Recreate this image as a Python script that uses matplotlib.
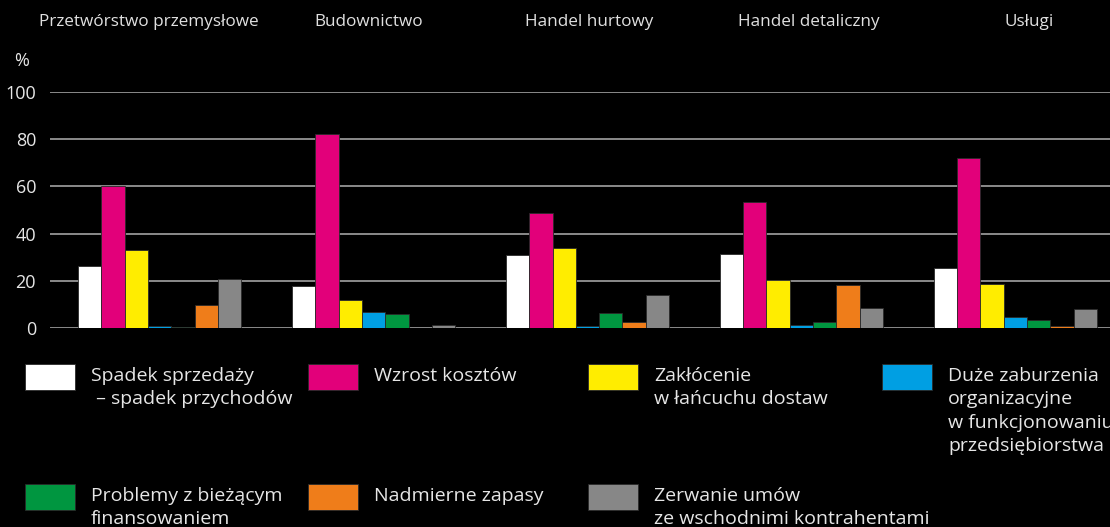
import numpy as np
import matplotlib
matplotlib.use("Agg")
import matplotlib.pyplot as plt
from matplotlib.patches import Rectangle

plt.rcParams['font.family'] = ['Open Sans', 'DejaVu Sans']

# sectors (groups)
sectors = ["Przetwórstwo przemysłowe", "Budownictwo", "Handel hurtowy",
           "Handel detaliczny", "Usługi"]

# series labels and colours
series = [
    "Spadek sprzedaży\n – spadek przychodów",
    "Wzrost kosztów",
    "Zakłócenie\nw łańcuchu dostaw",
    "Duże zaburzenia\norganizacyjne\nw funkcjonowaniu\nprzedsiębiorstwa",
    "Problemy z bieżącym\nfinansowaniem",
    "Nadmierne zapasy",
    "Zerwanie umów\nze wschodnimi kontrahentami",
]
colors = ["#ffffff", "#e2007a", "#ffed00", "#009fe3", "#009640", "#ef7d1a", "#878787"]

# values in %, one list per series (order of sectors)
spadek_sprzedazy = [26.1, 17.7, 30.8, 31.4, 25.6]
wzrost_kosztow = [60.1, 82.4, 48.6, 53.6, 72.0]
zaklocenie_dostaw = [33.2, 11.9, 34.1, 20.2, 18.7]
zaburzenia_org = [0.7, 6.8, 0.7, 1.3, 4.7]
problemy_finans = [0.3, 6.1, 6.2, 2.4, 3.4]
nadmierne_zapasy = [9.8, 0.2, 2.4, 18.1, 0.7]
zerwanie_umow = [20.9, 1.1, 13.8, 8.6, 8.1]

values = [spadek_sprzedazy, wzrost_kosztow, zaklocenie_dostaw, zaburzenia_org,
          problemy_finans, nadmierne_zapasy, zerwanie_umow]

yticks = [0, 20, 40, 60, 80, 100]

W, H = 1110, 527
fig = plt.figure(figsize=(W / 100, H / 100), dpi=100, facecolor="black")
ax = fig.add_axes([50 / W, (H - 328) / H, 1 - 50 / W, 236 / H])
ax.set_facecolor("black")

x = np.arange(len(sectors))
bw = 0.109
for i, (vals, col) in enumerate(zip(values, colors)):
    ax.bar(x + (i - 3) * bw, vals, width=bw, color=col, edgecolor="#2a2a2a",
           linewidth=0.6, zorder=3)

ax.set_ylim(0, 100)
ax.set_xlim(-0.512, 4.442)
ax.set_yticks(yticks)
ax.set_yticklabels([str(v) for v in yticks], color="#e6e6e6", fontsize=13)
ax.tick_params(axis="y", length=0, pad=10)
ax.set_xticks([])
for v in yticks:
    ax.axhline(v, color="#8a8a8a", linewidth=1.4, zorder=1)
for s in ax.spines.values():
    s.set_visible(False)

# sector titles across the top (spaced a little wider than the groups)
for i, name in enumerate(sectors):
    fig.text((149 + 220 * i) / W, 1 - 22 / H, name, ha="center", va="center",
             color="#e0e0e0", fontsize=12.3)

fig.text(22 / W, 1 - 61 / H, "%", color="#e6e6e6", fontsize=13, ha="center", va="center")

# legend drawn manually: 4 columns, 2 rows
col_x = [25, 308, 588, 882]
row_y = [364, 484]
for k, (lab, col) in enumerate(zip(series, colors)):
    cx = col_x[k % 4]
    ry = row_y[k // 4]
    fig.add_artist(Rectangle((cx / W, 1 - (ry + 26) / H), 50 / W, 26 / H,
                             transform=fig.transFigure, facecolor=col,
                             edgecolor="#2a2a2a", linewidth=0.6))
    # long labels run past the figure edge, as in the original
    fig.text((cx + 66) / W, 1 - (ry + 3) / H, lab, color="#e6e6e6", fontsize=14,
             ha="left", va="top", linespacing=1.38)

fig.savefig("out.png", dpi=100, facecolor="black")
